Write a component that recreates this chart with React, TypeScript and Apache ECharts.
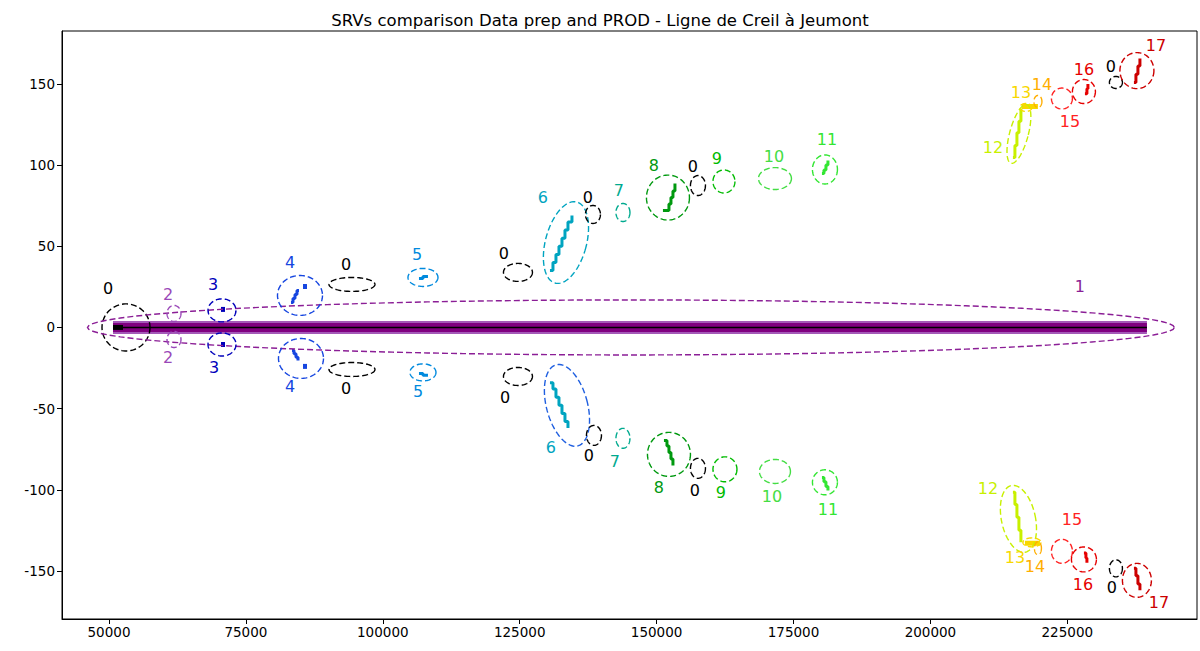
import { useEffect, useRef } from "react";
import * as echarts from "echarts";

const TITLE = "SRVs comparison Data prep and PROD - Ligne de Creil à Jeumont";
const FONT = "DejaVu Sans";

const xTicks = [50000, 75000, 100000, 125000, 150000, 175000, 200000, 225000];
const yTicks = [-150, -100, -50, 0, 50, 100, 150];

// Colour of each SRV group (nipy_spectral-like sequence)
const groupColors = [
  "#000000", "#8b1e96", "#9a48b8", "#0000bb", "#1646e0", "#008ade",
  "#00a4c0", "#00aa8f", "#00990f", "#00bb00", "#44dd44", "#33e633",
  "#c8f000", "#f8d800", "#ffae00", "#ff2222", "#e60000", "#cc0000",
];

// Main line extent along the track
const lineStart = 50730;
const lineEnd = 239540;

// Ellipses: [group, centre x, centre y, width, height, tilt deg]
const ellipsesTop = [
  [0, 53104, 0, 8765, 29, 0],
  [1, 145317, 0, 198486, 33.9, 0],
  [2, 61869, 8.6, 2556, 9.9, 0],
  [3, 70634, 10.5, 5113, 14.2, 0],
  [4, 84877, 19.7, 8217, 24.6, 0],
  [0, 94372, 26.5, 8400, 8.6, 0],
  [5, 107336, 30.8, 5478, 11.1, 0],
  [0, 124683, 33.9, 5295, 11.1, 0],
  [6, 133448, 52.3, 7487, 51.7, 15],
  [0, 138378, 69.6, 2739, 11.1, 0],
  [7, 143856, 70.8, 2556, 11.1, 0],
  [8, 152073, 80.0, 7852, 27.7, 0],
  [0, 157551, 87.4, 2739, 12.3, 0],
  [9, 162299, 89.9, 4017, 14.2, 0],
  [10, 171612, 91.7, 6026, 13.5, 0],
  [11, 180742, 97.3, 4565, 17.9, 0],
  [12, 216166, 119.2, 3400, 37.4, 15],
  [13, 217444, 135.5, 2191, 4.9, 0],
  [14, 219635, 139.2, 1461, 7.4, 0],
  [15, 224018, 141.0, 3835, 12.9, 0],
  [16, 228035, 145.3, 4200, 14.8, 0],
  [0, 233878, 150.9, 2374, 7.4, 0],
  [17, 237713, 158.2, 6208, 22.2, 0],
];

const ellipsesBottom = [
  [2, 61869, -7.4, 2556, 9.9, 0],
  [3, 70634, -10.5, 5113, 14.2, 0],
  [4, 85060, -19.1, 8217, 24.6, 0],
  [0, 94372, -25.9, 8400, 8.6, 0],
  [5, 107336, -27.7, 4748, 10.5, 0],
  [0, 124683, -30.2, 5295, 11.1, 0],
  [6, 133631, -48.0, 7487, 51.7, -15],
  [0, 138561, -66.5, 2739, 12.3, 0],
  [7, 143856, -68.3, 2556, 12.3, 0],
  [8, 152256, -78.2, 7852, 27.1, 0],
  [0, 157551, -86.8, 2739, 12.3, 0],
  [9, 162482, -87.4, 4382, 15.4, 0],
  [10, 171612, -88.7, 5661, 14.8, 0],
  [11, 180742, -95.4, 4565, 15.4, 0],
  [12, 216075, -117.9, 6208, 41.9, -12],
  [13, 218540, -132.4, 3287, 5.5, 0],
  [14, 219635, -136.0, 1278, 8.0, 0],
  [15, 224018, -137.9, 3835, 14.8, 0],
  [16, 228035, -142.9, 4565, 15.4, 0],
  [0, 233878, -148.4, 2374, 10.5, 0],
  [17, 237713, -155.8, 5295, 20.9, 0],
];

// Group number labels: [group, x, y]
const labelsTop = [
  [0, 49817, 24.0], [1, 227305, 25.2], [2, 60774, 20.3], [3, 68990, 26.5],
  [4, 83051, 40.0], [0, 93276, 38.8], [5, 106241, 45.0], [0, 122127, 45.6],
  [6, 129248, 80.0], [0, 137465, 80.0], [7, 143126, 84.4], [8, 149517, 99.8],
  [0, 156638, 99.1], [9, 161021, 104.1], [10, 171429, 105.3], [11, 181107, 115.8],
  [12, 211418, 110.8], [13, 216531, 144.7], [14, 220366, 149.6], [15, 225479, 126.8],
  [16, 228035, 158.9], [0, 232965, 160.7], [17, 241182, 173.6],
];

const labelsBottom = [
  [2, 60774, -18.5], [3, 69173, -24.6], [4, 83051, -36.3], [0, 93276, -37.6],
  [5, 106423, -39.4], [0, 122310, -43.1], [6, 130709, -73.9], [0, 137648, -78.8],
  [7, 142396, -82.5], [8, 150430, -98.5], [0, 157004, -100.4], [9, 161751, -101.6],
  [10, 171064, -104.1], [11, 181289, -112.1], [12, 210505, -99.1], [13, 215436, -141.6],
  [14, 219088, -147.2], [15, 225844, -118.2], [16, 227852, -158.3], [0, 233148, -160.1],
  [17, 241730, -169.3],
];

// SRV step traces: [group, points]
const tracesTop: [number, number[][]][] = [
  [0, [[50730, 0], [52556, 0]]],
  [3, [[70451, 11.1], [71182, 11.1]]],
  [4, [[83233, 15.4], [83598, 15.4], [83598, 17.8], [83964, 17.8], [83964, 20.3], [84329, 20.3], [84329, 22.8], [84694, 22.8]]],
  [4, [[85424, 25.2], [86154, 25.2]]],
  [5, [[106606, 30.2], [107336, 30.2], [107336, 31.4], [108250, 31.4]]],
  [6, [[130527, 35.1], [131075, 35.1], [131075, 40], [131623, 40], [131623, 45], [132171, 45], [132171, 50], [132719, 50], [132719, 55], [133267, 55], [133267, 60], [133815, 60], [133815, 65], [134544, 65], [134544, 69]]],
  [8, [[151160, 72], [152256, 72], [152256, 76], [152621, 76], [152621, 80], [152986, 80], [152986, 84], [153352, 84], [153352, 88.7]]],
  [11, [[180194, 94.8], [180560, 94.8], [180560, 97], [180925, 97], [180925, 100], [181290, 100], [181290, 102.8]]],
  [12, [[215070, 104.7], [215435, 104.7], [215435, 112], [215801, 112], [215801, 120], [216166, 120], [216166, 127], [216531, 127], [216531, 134.9]]],
  [13, [[216714, 136.1], [219635, 136.1]]],
  [16, [[228218, 144], [228583, 144], [228583, 147], [228766, 147], [228766, 150]]],
  [17, [[237167, 150.9], [237532, 150.9], [237532, 156], [237897, 156], [237897, 161], [238263, 161], [238263, 165.6]]],
];

const tracesBottom: [number, number[][]][] = [
  [3, [[70451, -10.5], [71182, -10.5]]],
  [4, [[83416, -14.2], [83781, -14.2], [83781, -16.2], [84146, -16.2], [84146, -18.3], [84512, -18.3], [84512, -20.3]]],
  [4, [[85424, -24.0], [86154, -24.0]]],
  [5, [[106606, -28.3], [107336, -28.3], [107336, -29.5], [108250, -29.5]]],
  [6, [[130527, -34], [131075, -34], [131075, -38], [131623, -38], [131623, -43], [132171, -43], [132171, -48], [132719, -48], [132719, -53], [133267, -53], [133267, -58], [133815, -58], [133815, -62]]],
  [8, [[151343, -69.6], [151891, -69.6], [151891, -73], [152256, -73], [152256, -77], [152621, -77], [152621, -81], [152986, -81], [152986, -85]]],
  [11, [[180194, -92.4], [180560, -92.4], [180560, -95], [180925, -95], [180925, -98], [181290, -98], [181290, -100.4]]],
  [12, [[215070, -101.6], [215435, -101.6], [215435, -109], [215801, -109], [215801, -117], [216166, -117], [216166, -125], [216531, -125], [216531, -132.4]]],
  [13, [[217262, -133], [220001, -133]]],
  [16, [[228035, -139], [228401, -139], [228401, -142], [228583, -142], [228583, -145]]],
  [17, [[237167, -148.4], [237532, -148.4], [237532, -153], [237897, -153], [237897, -158], [238263, -158], [238263, -161.9]]],
];

function ellipseColor(group: number, bottom: boolean) {
  if (bottom && group === 6) return "#1f5fe0";
  return groupColors[group];
}

function ellipseSeries(rows: number[][], bottom: boolean) {
  return {
    type: "custom",
    silent: true,
    clip: false,
    z: 5,
    data: rows.map((r) => [r[1], r[2]]),
    encode: { x: 0, y: 1 },
    renderItem: (params: any, api: any) => {
      const r = rows[params.dataIndex];
      const c = api.coord([r[1], r[2]]);
      const s = api.size([r[3], r[4]]);
      const rx = s[0] / 2;
      const ry = s[1] / 2;
      const t = (r[5] * Math.PI) / 180;
      const pts: number[][] = [];
      const n = 90;
      for (let k = 0; k < n; k++) {
        const a = (k / n) * Math.PI * 2;
        const x0 = rx * Math.cos(a);
        const y0 = ry * Math.sin(a);
        pts.push([c[0] + x0 * Math.cos(t) - y0 * Math.sin(t), c[1] + x0 * Math.sin(t) + y0 * Math.cos(t)]);
      }
      return {
        type: "polygon",
        shape: { points: pts },
        style: {
          fill: "none",
          stroke: ellipseColor(r[0], bottom),
          lineWidth: 1.4,
          lineDash: [6, 3],
        },
      };
    },
  };
}

function labelSeries(rows: number[][]) {
  return {
    type: "custom",
    silent: true,
    clip: false,
    z: 6,
    data: rows.map((r) => [r[1], r[2]]),
    encode: { x: 0, y: 1 },
    renderItem: (params: any, api: any) => {
      const r = rows[params.dataIndex];
      const c = api.coord([r[1], r[2]]);
      return {
        type: "text",
        x: c[0],
        y: c[1],
        style: {
          text: String(r[0]),
          fill: groupColors[r[0]],
          fontFamily: FONT,
          fontSize: 16,
          align: "center",
          verticalAlign: "middle",
        },
      };
    },
  };
}

function traceSeries(traces: [number, number[][]][]) {
  return traces.map(([g, pts]) => ({
    type: "line",
    data: pts,
    symbol: "none",
    silent: true,
    z: 4,
    lineStyle: { color: groupColors[g], width: pts.length === 2 ? 5 : 3 },
  }));
}

export default function App() {
  const ref = useRef<HTMLDivElement>(null);

  useEffect(() => {
    if (!ref.current) return;
    const chart = echarts.init(ref.current, undefined, { renderer: "svg" });
    const axisLabel = {
      color: "#000",
      fontFamily: FONT,
      fontSize: 13.5,
    };
    const line = [
      [lineStart, 0],
      [lineEnd, 0],
    ];
    chart.setOption({
      animation: false,
      backgroundColor: "#fff",
      title: {
        text: TITLE,
        left: "center",
        top: 7,
        textStyle: { fontFamily: FONT, fontSize: 16.5, fontWeight: "normal", color: "#000" },
      },
      grid: {
        left: 62,
        right: 3,
        top: 31,
        bottom: 32,
        show: true,
        borderColor: "#000",
        borderWidth: 1,
        backgroundColor: "transparent",
      },
      xAxis: {
        type: "value",
        min: 41417,
        max: 248685,
        splitLine: { show: false },
        axisLine: { show: true, onZero: false, lineStyle: { color: "#000" } },
        axisTick: { show: true, length: 5, lineStyle: { color: "#000" }, customValues: xTicks },
        axisLabel: { ...axisLabel, margin: 6, customValues: xTicks, formatter: (v: number) => String(v) },
      },
      yAxis: {
        type: "value",
        min: -179.6,
        max: 182.6,
        splitLine: { show: false },
        axisLine: { show: true, onZero: false, lineStyle: { color: "#000" } },
        axisTick: { show: true, length: 5, lineStyle: { color: "#000" }, customValues: yTicks },
        axisLabel: { ...axisLabel, margin: 7, customValues: yTicks, formatter: (v: number) => String(v) },
      },
      series: [
        { type: "line", data: line, symbol: "none", silent: true, z: 2, lineStyle: { color: "#a459b8", width: 13 } },
        { type: "line", data: line, symbol: "none", silent: true, z: 2, lineStyle: { color: "#800080", width: 9 } },
        { type: "line", data: line, symbol: "none", silent: true, z: 3, lineStyle: { color: "#000", width: 1.6 } },
        ...traceSeries(tracesTop),
        ...traceSeries(tracesBottom),
        ellipseSeries(ellipsesTop, false),
        ellipseSeries(ellipsesBottom, true),
        labelSeries(labelsTop),
        labelSeries(labelsBottom),
      ],
    });
    return () => chart.dispose();
  }, []);

  return (
    <div
      ref={ref}
      style={{ position: "fixed", left: 0, top: 0, width: 1200, height: 651, background: "#fff" }}
    />
  );
}
